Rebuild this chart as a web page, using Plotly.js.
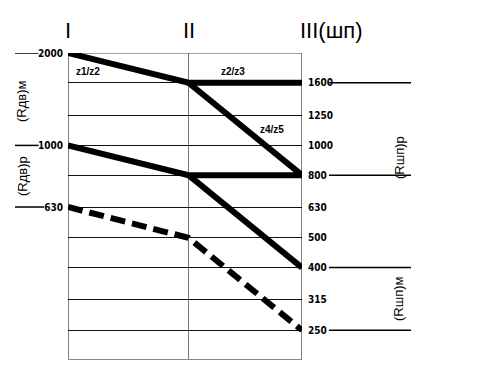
<!DOCTYPE html>
<html>
<head>
<meta charset="utf-8">
<script src="https://cdn.plot.ly/plotly-3.0.1.min.js"></script>
<style>html,body{margin:0;padding:0;background:#fff}#chart{width:479px;height:366px}</style>
</head>
<body>
<div id="chart"></div>
<script>
// Shafts (stages) and their positions along the x axis
var stageNames = ['I', 'II', 'III(шп)'];
var stagePos = [0, 1.03, 2];

// Speed levels (rpm) shown as grid
var rightTicks = [1600, 1250, 1000, 800, 630, 500, 400, 315, 250];
var leftTicks = [2000, 1000, 630];
var levelMin = 200, levelMax = 2000;

// Speed ray lines: stage index -> speed
var ray1Stages = [0, 1, 2], ray1Speeds = [2000, 1600, 1600];
var ray2Stages = [1, 2],    ray2Speeds = [1600, 800];
var ray3Stages = [0, 1, 2], ray3Speeds = [1000, 800, 800];
var ray4Stages = [1, 2],    ray4Speeds = [800, 400];
var rayDStages = [0, 1, 2], rayDSpeeds = [630, 500, 250];

// Markers drawn outside the grid
var leftMarks = [2000, 1000, 630];
var rightMarks = [1600, 800, 400, 250];

function sx(idx){ return idx.map(function(i){ return stagePos[i]; }); }

var solid = {color:'#000', width:6};
var traces = [
  {x:sx(ray1Stages), y:ray1Speeds, mode:'lines', line:solid, yaxis:'y'},
  {x:sx(ray2Stages), y:ray2Speeds, mode:'lines', line:solid, yaxis:'y'},
  {x:sx(ray3Stages), y:ray3Speeds, mode:'lines', line:solid, yaxis:'y'},
  {x:sx(ray4Stages), y:ray4Speeds, mode:'lines', line:solid, yaxis:'y'},
  {x:sx(rayDStages), y:rayDSpeeds, mode:'lines', line:{color:'#000', width:6, dash:'15px,7px'}, yaxis:'y'}
];
traces.forEach(function(t){ t.hoverinfo='skip'; t.showlegend=false; });

var shapes = [];
// vertical shaft lines
stagePos.forEach(function(p, i){
  shapes.push({type:'line', xref:'x', yref:'paper', x0:p, x1:p, y0:0, y1:1,
    line:{color: i===1 ? '#777' : '#000', width:1}, layer:'below'});
});
// top and bottom borders
shapes.push({type:'line', xref:'paper', yref:'y', x0:0, x1:1, y0:levelMax, y1:levelMax, line:{color:'#444', width:1}, layer:'below'});
shapes.push({type:'line', xref:'paper', yref:'y', x0:0, x1:1, y0:levelMin, y1:levelMin, line:{color:'#888', width:2}, layer:'below'});
// left outside marks (run up to the left edge of the label text)
leftMarks.forEach(function(v){
  var endPx = 62 - 5.6 * String(v).length - 1;
  shapes.push({type:'line', xref:'paper', yref:'y', x0:(15-68)/234, x1:(endPx-68)/234, y0:v, y1:v, line:{color:'#000', width:1.5}});
});
// right outside marks
rightMarks.forEach(function(v){
  shapes.push({type:'line', xref:'paper', yref:'y', x0:(329-68)/234, x1:(411-68)/234, y0:v, y1:v, line:{color:'#000', width:1.5}});
});

var tickFont = {family:'"DejaVu Sans Condensed", "Liberation Sans Narrow", sans-serif', size:10, color:'#000', weight:'bold'};
var zFont = {family:'"Liberation Sans", Arial, sans-serif', size:10, color:'#000', weight:'bold'};
var bigFont = {family:'"Liberation Sans", "DejaVu Sans", sans-serif', size:22, color:'#000'};
var rotFont = {family:'"Liberation Sans", "DejaVu Sans", sans-serif', size:13, color:'#000'};

var annotations = [
  {text:stageNames[0], x:stagePos[0], xref:'x', y:31, yref:'paper', showarrow:false, font:bigFont, xanchor:'center', yanchor:'middle'},
  {text:stageNames[1], x:stagePos[1], xref:'x', y:31, yref:'paper', showarrow:false, font:bigFont, xanchor:'center', yanchor:'middle'},
  {text:stageNames[2], x:stagePos[2], xref:'x', y:31, yref:'paper', showarrow:false, font:bigFont, xanchor:'left', yanchor:'middle', xshift:-4},
  {text:'z1/z2', x:88, y:71, showarrow:false, font:zFont},
  {text:'z2/z3', x:233, y:71, showarrow:false, font:zFont},
  {text:'z4/z5', x:272, y:129, showarrow:false, font:zFont},
  {text:'(Rдв)м', x:22, y:101, showarrow:false, font:rotFont, textangle:-90},
  {text:'(Rдв)р', x:22, y:176, showarrow:false, font:rotFont, textangle:-90},
  {text:'(Rшп)р', x:399, y:158, showarrow:false, font:rotFont, textangle:-90},
  {text:'(Rшп)м', x:398, y:299, showarrow:false, font:rotFont, textangle:-90}
];
// convert pixel-positioned labels to paper coords
annotations.forEach(function(a){
  if (a.xref !== 'x') { a.xref = 'paper'; a.x = (a.x - 68) / 234; a.xanchor = a.xanchor || 'center'; }
  a.yref = 'paper'; a.y = (360 - a.y) / 307; a.yanchor = a.yanchor || 'middle';
});

var layout = {
  width:479, height:366,
  margin:{l:68, r:177, t:53, b:6},
  paper_bgcolor:'#fff', plot_bgcolor:'#fff',
  showlegend:false,
  xaxis:{range:[stagePos[0], stagePos[2]], showgrid:false, zeroline:false, showticklabels:false, ticks:'', showline:false, fixedrange:true},
  yaxis:{type:'log', range:[Math.log10(levelMin), Math.log10(levelMax)], side:'right',
    tickvals:rightTicks, ticktext:rightTicks.map(String), showgrid:true, gridcolor:'#111', gridwidth:1,
    zeroline:false, ticks:'outside', ticklen:3, tickcolor:'rgba(0,0,0,0)', showline:false, tickfont:tickFont, fixedrange:true},
  yaxis2:{type:'log', range:[Math.log10(levelMin), Math.log10(levelMax)], side:'left', overlaying:'y', anchor:'x',
    tickvals:leftTicks, ticktext:leftTicks.map(String), showgrid:false, zeroline:false,
    ticks:'outside', ticklen:2, tickcolor:'rgba(0,0,0,0)', showline:false, tickfont:tickFont, fixedrange:true},
  shapes:shapes,
  annotations:annotations
};
// invisible trace so the left speed axis is drawn
traces.push({x:[stagePos[0]], y:[levelMax], yaxis:'y2', mode:'markers', marker:{opacity:0}, hoverinfo:'skip', showlegend:false});

Plotly.newPlot('chart', traces, layout, {staticPlot:true, displayModeBar:false});
</script>
</body>
</html>
